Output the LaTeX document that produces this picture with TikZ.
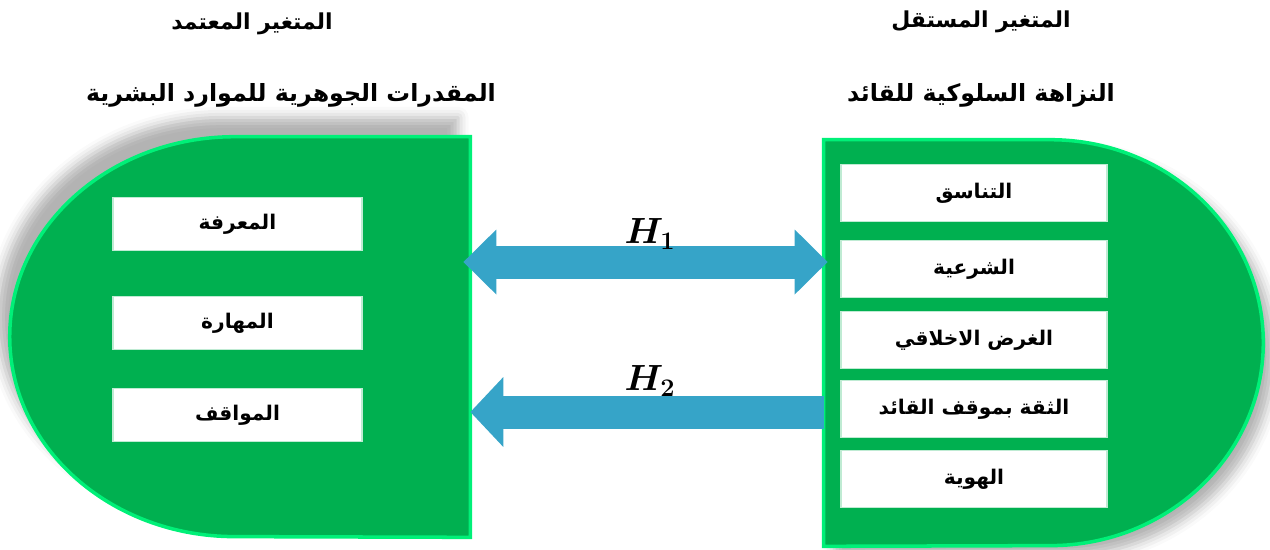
\documentclass[tikz,border=0pt]{standalone}
\usepackage{fontspec}
\newfontfamily\arabicfont[Script=Arabic]{DejaVu Sans}
\TeXXeTstate=1
\usepackage{amsmath}
\usetikzlibrary{arrows.meta,shadows.blur}

\definecolor{shapegreen}{RGB}{0,176,80}
\definecolor{edgegreen}{RGB}{0,240,120}
\definecolor{arrowblue}{RGB}{54,164,200}

\begin{document}
\begin{tikzpicture}[x=0.02cm, y=-0.02cm,
    item/.style={rectangle, fill=white, draw=white!75!shapegreen, line width=1pt, inner sep=0pt,
      font=\arabicfont\bfseries\fontsize{11.5}{13}\selectfont},
    leftitem/.style={item, minimum width=4.98cm, minimum height=1.06cm},
    rightitem/.style={item, minimum width=5.32cm, minimum height=1.14cm},
    vartitle/.style={font=\arabicfont\bfseries\fontsize{12.5}{15}\selectfont},
    varname/.style={font=\arabicfont\bfseries\fontsize{13.5}{16}\selectfont},
    hyp/.style={font=\fontsize{20}{24}\selectfont\boldmath},
    link/.style={arrowblue, line width=0.66cm}]
  \useasboundingbox (0,0) rectangle (1270,549);

  % titles
  \node[vartitle] (deptitle) at (252,24) {\beginR المتغير المعتمد\endR};
  \node[varname] (depname) at (291,95) {\beginR المقدرات الجوهرية للموارد البشرية\endR};
  \node[vartitle] (indtitle) at (981,22) {\beginR المتغير المستقل\endR};
  \node[varname] (indname) at (981,95) {\beginR النزاهة السلوكية للقائد\endR};

  % green shapes
  \node[minimum width=4.7cm, minimum height=8cm, inner sep=0pt] (dep) at (352.5,337) {};
  \node[minimum width=4.52cm, minimum height=8.12cm, inner sep=0pt] (ind) at (937,343) {};
  \path[blur shadow={shadow xshift=-7pt, shadow yshift=11pt, shadow blur radius=6pt, shadow opacity=30},
    fill=shapegreen, draw=edgegreen, line width=2pt]
    (dep.north east) -- (dep.north west) arc[start angle=90, end angle=270, x radius=4.5cm, y radius=4cm]
    -- (dep.south east) -- cycle;
  \path[blur shadow={shadow xshift=6pt, shadow yshift=-6pt, shadow blur radius=6pt, shadow opacity=30},
    fill=shapegreen, draw=edgegreen, line width=2pt]
    (ind.north west) -- (ind.north east) arc[start angle=90, end angle=-90, x radius=4.26cm, y radius=4.06cm]
    -- (ind.south west) -- cycle;

  % dependent items
  \node[leftitem] (knowledge) at (237.5,224) {\beginR المعرفة\endR};
  \node[leftitem] (skill) at (237.5,323) {\beginR المهارة\endR};
  \node[leftitem] (attitude) at (237.5,415) {\beginR المواقف\endR};

  % independent items
  \node[rightitem] (coherence) at (974,193) {\beginR التناسق\endR};
  \node[rightitem] (legitimacy) at (974,269) {\beginR الشرعية\endR};
  \node[rightitem] (purpose) at (974,340) {\beginR الغرض الاخلاقي\endR};
  \node[rightitem] (trust) at (974,409) {\beginR الثقة بموقف القائد\endR};
  \node[rightitem] (identity) at (974,479) {\beginR الهوية\endR};

  % hypotheses
  \coordinate (h1) at (646,262);
  \coordinate (h2) at (646,412);
  \draw[link, {Triangle[length=0.66cm, width=1.26cm]}-{Triangle[length=0.66cm, width=1.26cm]}]
    ([xshift=-0.14cm]dep.east |- h1) -- ([xshift=0.08cm]ind.west |- h1);
  \draw[link, -{Triangle[length=0.66cm, width=1.36cm]}] (ind.west |- h2) -- (dep.east |- h2);
  \node[hyp] (h1label) at (650,234) {$H_1$};
  \node[hyp] (h2label) at (650,381) {$H_2$};
\end{tikzpicture}
\end{document}
